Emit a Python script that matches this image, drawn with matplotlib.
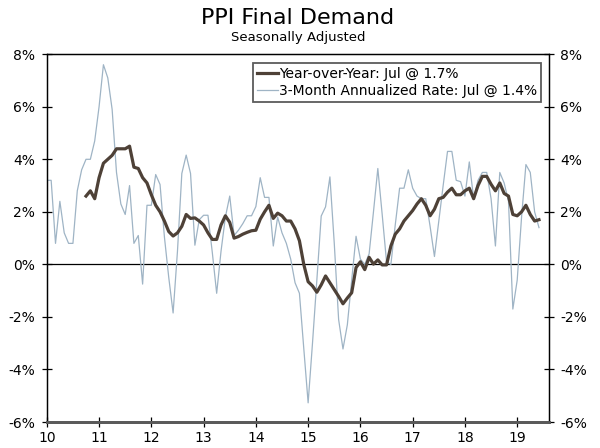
import numpy as np
import matplotlib
matplotlib.use("Agg")
import matplotlib.pyplot as plt

# 3-month annualized rate, monthly, first point at the "10" tick, last = Jul 2019
three_month = [
    3.2, 3.2, 0.8, 2.4, 1.2, 0.8, 0.8, 2.8, 3.6, 4.0, 4.0, 4.7,
    6.0, 7.6, 7.1, 5.9, 3.5, 2.3, 1.9, 3.0, 0.8, 1.1, -0.75, 2.25,
    2.25, 3.42, 3.04, 1.05, -0.5, -1.85, 0.5, 3.46, 4.16, 3.46, 0.73, 1.7,
    1.87, 1.87, 0.45, -1.1, 0.5, 1.8, 2.6, 1.1, 1.3, 1.55, 1.85, 1.85,
    2.2, 3.3, 2.55, 2.55, 0.7, 1.8, 1.2, 0.8, 0.2, -0.7, -1.1, -3.2,
    -5.27, -3.0, -0.6, 1.84, 2.19, 3.33, 0.8, -2.1, -3.22, -2.3, -0.6, 1.07,
    0.2, 0.0, 0.4, 2.0, 3.65, 1.9, 0.1, 0.0, 1.5, 2.9, 2.9, 3.6,
    2.9, 2.6, 2.5, 2.5, 1.45, 0.3, 1.65, 3.0, 4.3, 4.3, 3.2, 3.15,
    2.6, 3.9, 2.5, 3.2, 3.5, 3.5, 2.5, 0.7, 3.5, 3.1, 2.4, -1.7,
    -0.6, 1.8, 3.8, 3.5, 2.0, 1.4,
]

# year-over-year, starts 9 months after the first 3-month point
yoy_start = 9
yoy = [
    2.6, 2.8, 2.5,
    3.3, 3.85, 4.0, 4.15, 4.4, 4.4, 4.4, 4.5, 3.7, 3.65, 3.3, 3.1,
    2.65, 2.25, 2.0, 1.65, 1.25, 1.08, 1.2, 1.45, 1.9, 1.75, 1.77, 1.65,
    1.5, 1.2, 0.95, 0.95, 1.5, 1.85, 1.6, 1.0, 1.06, 1.15, 1.22, 1.28,
    1.3, 1.72, 2.0, 2.25, 1.75, 1.95, 1.85, 1.65, 1.65, 1.35, 0.9, 0.0,
    -0.66, -0.82, -1.06, -0.78, -0.44, -0.7, -0.96, -1.22, -1.5, -1.28, -1.08, -0.12,
    0.1, -0.2, 0.27, 0.01, 0.17, -0.02, -0.02, 0.7, 1.15, 1.35, 1.65, 1.85,
    2.05, 2.3, 2.5, 2.25, 1.85, 2.1, 2.5, 2.55, 2.75, 2.9, 2.65, 2.65,
    2.8, 2.9, 2.5, 3.0, 3.35, 3.35, 3.05, 2.8, 3.1, 2.7, 2.6, 1.9,
    1.85, 2.0, 2.25, 1.9, 1.65, 1.7,
]

years = list(range(2010, 2020))
year_labels = [str(y)[2:] for y in years]
yticks = [-6, -4, -2, 0, 2, 4, 6, 8]

x3 = 2010 + np.arange(len(three_month)) / 12
xy = 2010 + (yoy_start + np.arange(len(yoy))) / 12

dark = "#4e4137"
light = "#9fb4c5"

fig = plt.figure(figsize=(6, 4.48), dpi=100)
ax = fig.add_axes([0.078, 0.058, 0.837, 0.821])

ax.axhline(0, color="black", lw=0.9, zorder=1)
ax.plot(x3, three_month, color=light, lw=0.9, zorder=2,
        label="3-Month Annualized Rate: Jul @ 1.4%")
ax.plot(xy, yoy, color=dark, lw=2.3, zorder=3,
        label="Year-over-Year: Jul @ 1.7%")

ax.set_xlim(2010, 2010 + 115.3 / 12)
ax.set_ylim(-6, 8)
ax.set_xticks(years)
ax.set_xticklabels(year_labels)
ax.set_yticks(yticks)
ax.set_yticklabels([f"{v}%" for v in yticks])
ax.tick_params(axis="y", direction="inout", length=6.5, width=0.9, labelsize=10, pad=5)
ax.tick_params(axis="x", direction="inout", length=7, width=0.9, labelsize=10, pad=3)

ax2 = ax.twinx()
ax2.set_ylim(-6, 8)
ax2.set_yticks(yticks)
ax2.set_yticklabels([f"{v}%" for v in yticks])
ax2.tick_params(axis="y", direction="inout", length=6.5, width=0.9, labelsize=10, pad=5)

for a in (ax, ax2):
    for s in ("left", "right", "top"):
        a.spines[s].set_linewidth(0.9)
        a.spines[s].set_color("black")
    a.spines["bottom"].set_linewidth(2.0)
    a.spines["bottom"].set_color("#5a5a5a")

h, l = ax.get_legend_handles_labels()
leg = ax.legend(h[::-1], l[::-1], loc="upper right", bbox_to_anchor=(0.985, 0.977),
                fontsize=10, frameon=True, fancybox=False, borderaxespad=0,
                handlelength=1.5, handletextpad=0.1, labelspacing=0.25,
                borderpad=0.3)
leg.get_frame().set_edgecolor("#333333")
leg.get_frame().set_linewidth(1.3)

cx = (0.078 + 0.078 + 0.837) / 2
fig.text(cx, 1 - 18 / 448, "PPI Final Demand", ha="center", va="center", fontsize=16)
fig.text(cx, 1 - 38 / 448, "Seasonally Adjusted", ha="center", va="center", fontsize=9.5)

fig.savefig("out.png", dpi=100)
